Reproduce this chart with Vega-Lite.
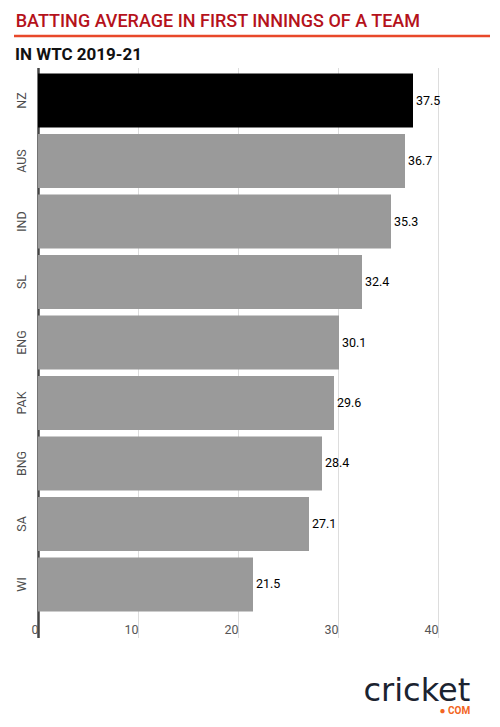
{
  "$schema": "https://vega.github.io/schema/vega-lite/v6.json",
  "padding": {"left": 12, "top": 12, "right": 10, "bottom": 10},
  "config": {
    "font": "Roboto",
    "view": {"stroke": null}
  },
  "title": {
    "text": "cricket",
    "subtitle": "● COM",
    "orient": "bottom",
    "anchor": "end",
    "baseline": "alphabetic",
    "offset": 62,
    "dx": -21,
    "font": "DejaVu Sans",
    "fontSize": 32,
    "fontWeight": "normal",
    "color": "#1b2330",
    "subtitleFont": "Roboto",
    "subtitleFontSize": 10,
    "subtitleFontWeight": "bold",
    "subtitleColor": "#f26522",
    "subtitlePadding": -19
  },
  "vconcat": [
    {
      "width": 450,
      "height": 1,
      "title": {
        "text": "BATTING AVERAGE IN FIRST INNINGS OF A TEAM",
        "anchor": "start",
        "offset": 4,
        "dx": 3,
        "fontSize": 18,
        "fontWeight": 500,
        "color": "#b5121b"
      },
      "data": {"values": [{}]},
      "mark": {"type": "rule", "color": "#e8482a", "strokeWidth": 2.5},
      "encoding": {
        "x": {"datum": -2.4, "type": "quantitative", "scale": {"domain": [0, 45], "nice": false}, "axis": null},
        "x2": {"datum": 45.2},
        "y": {"datum": 0, "type": "quantitative", "scale": {"domain": [0, 1]}, "axis": null}
      }
    },
    {
      "width": 450,
      "height": 550,
      "title": {
        "text": "IN WTC 2019-21",
        "anchor": "start",
        "offset": 4,
        "fontSize": 17,
        "fontWeight": "bold",
        "color": "#111111"
      },
      "data": {
        "values": [
          {"team": "NZ", "avg": 37.5},
          {"team": "AUS", "avg": 36.7},
          {"team": "IND", "avg": 35.3},
          {"team": "SL", "avg": 32.4},
          {"team": "ENG", "avg": 30.1},
          {"team": "PAK", "avg": 29.6},
          {"team": "BNG", "avg": 28.4},
          {"team": "SA", "avg": 27.1},
          {"team": "WI", "avg": 21.5}
        ]
      },
      "encoding": {
        "y": {
          "field": "team",
          "type": "nominal",
          "sort": null,
          "scale": {"paddingInner": 0.107, "paddingOuter": 0.1},
          "axis": {
            "title": null,
            "labelAngle": 270,
            "labelAlign": "center",
            "labelBaseline": "bottom",
            "labelPadding": 10,
            "labelFontSize": 12.5,
            "labelColor": "#4d4d4d",
            "ticks": false,
            "domainColor": "#444444",
            "domainWidth": 2.5
          }
        },
        "x": {
          "field": "avg",
          "type": "quantitative",
          "scale": {"domain": [0, 45], "nice": false},
          "axis": {
            "title": null,
            "values": [0, 10, 20, 30, 40],
            "domain": false,
            "grid": true,
            "gridColor": "#dddddd",
            "tickSize": 20,
            "tickColor": {"condition": {"test": "datum.value === 0", "value": "#444444"}, "value": "#dddddd"},
            "tickWidth": {"condition": {"test": "datum.value === 0", "value": 2.5}, "value": 1},
            "labelAlign": "right",
            "labelBaseline": "alphabetic",
            "labelPadding": -4,
            "labelDx": -5,
            "labelFontSize": 12.5,
            "labelColor": "#555555"
          }
        }
      },
      "layer": [
        {
          "mark": {"type": "bar"},
          "encoding": {
            "color": {
              "condition": {"test": "datum.team === 'NZ'", "value": "#000000"},
              "value": "#9a9a9a"
            }
          }
        },
        {
          "mark": {"type": "text", "align": "left", "dx": 3, "fontSize": 12.5, "fontWeight": "normal", "color": "#000000"},
          "encoding": {
            "text": {"field": "avg", "type": "quantitative", "format": ".1f"}
          }
        }
      ]
    }
  ],
  "spacing": 7.5
}
